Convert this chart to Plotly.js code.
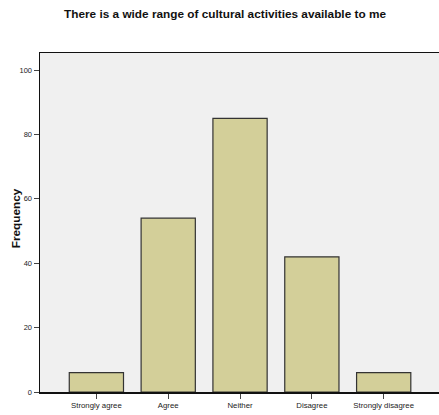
<!DOCTYPE html>
<html>
<head>
<meta charset="utf-8">
<script src="https://cdn.plot.ly/plotly-3.0.1.min.js"></script>
<style>html,body{margin:0;padding:0;background:#fff;}#chart{width:439px;height:415px;}</style>
</head>
<body>
<div id="chart"></div>
<script>
const categories = ["Strongly agree", "Agree", "Neither", "Disagree", "Strongly disagree"];
const frequencies = [6, 54, 85, 42, 6];
const yTicks = [0, 20, 40, 60, 80, 100];
const chartTitle = "There is a wide range of cultural activities available to me";
const yTitle = "Frequency";

const trace = {
  type: "bar",
  x: [0, 1, 2, 3, 4],
  y: frequencies,
  width: 0.755,
  marker: { color: "#d3cf99", line: { color: "#333333", width: 1.2 } },
  hoverinfo: "none"
};

const layout = {
  width: 439, height: 415,
  margin: { l: 40, r: 0, t: 53, b: 23 },
  paper_bgcolor: "#ffffff",
  plot_bgcolor: "#f0f0f0",
  font: { family: "Liberation Sans, Arial, sans-serif", color: "#222222" },
  title: {
    text: chartTitle,
    font: { family: "Liberation Sans, Arial, sans-serif", size: 11.8, color: "#111111", weight: "bold" },
    x: 225 / 439, xref: "container", xanchor: "center",
    y: 1 - 14 / 415, yref: "container", yanchor: "middle"
  },
  xaxis: {
    range: [-0.785, 4.77],
    tickmode: "array",
    tickvals: [0, 1, 2, 3, 4],
    ticktext: categories,
    ticks: "outside", ticklen: 5, tickwidth: 1, tickcolor: "#444444",
    tickfont: { size: 7.8, color: "#222222" },
    showline: true, linecolor: "#111111", linewidth: 1.5,
    mirror: true,
    showgrid: false, zeroline: false, fixedrange: true
  },
  yaxis: {
    range: [0, 105.3],
    tickmode: "array",
    tickvals: yTicks,
    ticks: "outside", ticklen: 5, tickwidth: 1, tickcolor: "#444444",
    tickfont: { size: 7.5, color: "#222222" },
    showline: true, linecolor: "#111111", linewidth: 1.5,
    showgrid: false, zeroline: false, fixedrange: true,
    title: { text: yTitle, font: { size: 11.8, weight: "bold", family: "Liberation Sans, Arial, sans-serif", color: "#111111" }, standoff: 0 }
  },
  showlegend: false,
  bargap: 0
};

Plotly.newPlot("chart", [trace], layout, { displayModeBar: false, staticPlot: true }).then(function () {
  // nudge y-axis title to match reference position
  const t = document.querySelector(".g-ytitle text");
  if (t) {
    const cur = t.getAttribute("transform") || "";
    t.setAttribute("transform", "translate(4,-4) " + cur);
  }
});
</script>
</body>
</html>
